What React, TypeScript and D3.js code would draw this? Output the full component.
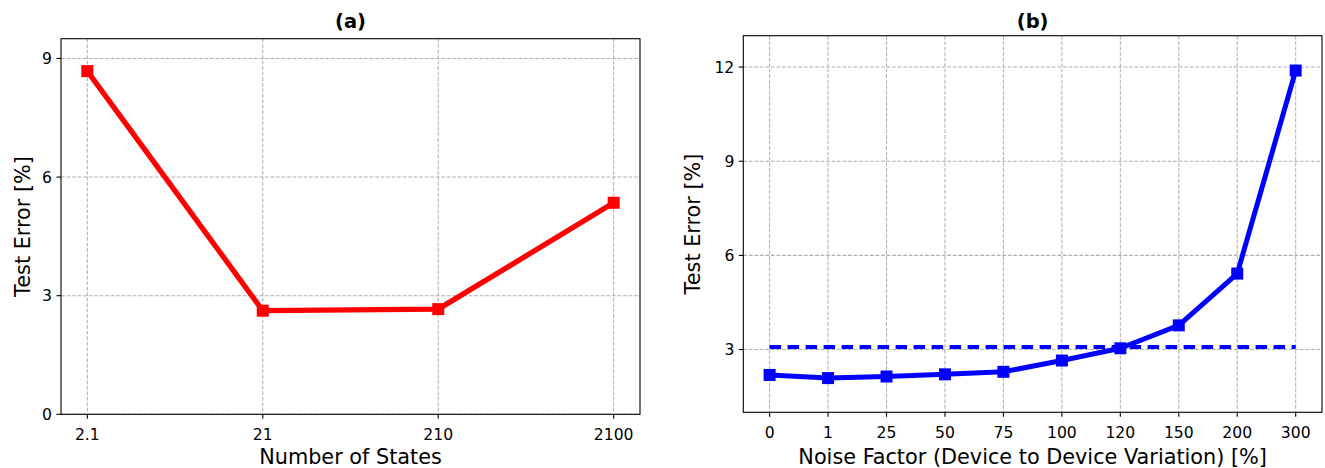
import React from "react";
import * as d3 from "d3";

const statesCategories = ["2.1", "21", "210", "2100"];
const statesError = [8.68, 2.62, 2.66, 5.35];
const statesYTicks = [0, 3, 6, 9];

const noiseCategories = ["0", "1", "25", "50", "75", "100", "120", "150", "200", "300"];
const noiseError = [2.19, 2.09, 2.14, 2.21, 2.29, 2.65, 3.04, 3.77, 5.42, 11.89];
const baselineError = 3.08;
const noiseYTicks = [3, 6, 9, 12];

const FONT = "DejaVu Sans, sans-serif";

type PanelProps = {
  left: number; right: number; top: number; bottom: number;
  cats: string[]; values: number[]; yDomain: [number, number]; yTicks: number[];
  color: string; title: string; xLabel: string; yLabelX: number; baseline?: number;
  lineWidth: number;
};

function Panel(p: PanelProps) {
  const n = p.cats.length;
  const span = p.right - p.left;
  const inner = span / 1.1;
  const pad = inner * 0.05;
  const x = d3.scaleLinear().domain([0, n - 1]).range([p.left + pad, p.right - pad]);
  const y = d3.scaleLinear().domain(p.yDomain).range([p.bottom, p.top]);
  const line = d3.line<number>().x((_, i) => x(i)).y((d) => y(d));
  const ms = 12;
  return (
    <g>
      {p.cats.map((_, i) => (
        <line key={"gx" + i} x1={x(i)} x2={x(i)} y1={p.top} y2={p.bottom}
          stroke="#b0b0b0" strokeWidth={1.05} strokeDasharray="3.85,1.66" />
      ))}
      {p.yTicks.map((t) => (
        <line key={"gy" + t} x1={p.left} x2={p.right} y1={y(t)} y2={y(t)}
          stroke="#b0b0b0" strokeWidth={1.05} strokeDasharray="3.85,1.66" />
      ))}
      {p.baseline !== undefined && (
        <line x1={x(0)} x2={x(n - 1)} y1={y(p.baseline)} y2={y(p.baseline)}
          stroke={p.color} strokeWidth={4} strokeDasharray="11.5,6.5" />
      )}
      <path d={line(p.values) || ""} fill="none" stroke={p.color} strokeWidth={p.lineWidth} strokeLinejoin="round" />
      {p.values.map((v, i) => (
        <rect key={"m" + i} x={x(i) - ms / 2} y={y(v) - ms / 2} width={ms} height={ms} fill={p.color} />
      ))}
      <rect x={p.left} y={p.top} width={span} height={p.bottom - p.top} fill="none" stroke="#000" strokeWidth={1.1} />
      {p.cats.map((c, i) => (
        <g key={"tx" + i}>
          <line x1={x(i)} x2={x(i)} y1={p.bottom} y2={p.bottom + 4.5} stroke="#000" strokeWidth={1.1} />
          <text x={x(i)} y={p.bottom + 25.7} textAnchor="middle" fontSize={15.6} fontFamily={FONT} fill="#000">{c}</text>
        </g>
      ))}
      {p.yTicks.map((t) => (
        <g key={"ty" + t}>
          <line x1={p.left - 4.5} x2={p.left} y1={y(t)} y2={y(t)} stroke="#000" strokeWidth={1.1} />
          <text x={p.left - 9} y={y(t)} dy="0.36em" textAnchor="end" fontSize={15.6} fontFamily={FONT} fill="#000">{t}</text>
        </g>
      ))}
      <text x={(p.left + p.right) / 2} y={28} textAnchor="middle" fontSize={19.5} fontWeight="bold" fontFamily={FONT} fill="#000">{p.title}</text>
      <text x={(p.left + p.right) / 2} y={463.5} textAnchor="middle" fontSize={20.8} fontFamily={FONT} fill="#000">{p.xLabel}</text>
      <text transform={`translate(${p.yLabelX},${(p.top + p.bottom) / 2}) rotate(-90)`} textAnchor="middle" fontSize={20.8} fontFamily={FONT} fill="#000">Test Error [%]</text>
    </g>
  );
}

export default function App() {
  return (
    <svg width={1325} height={468} style={{ position: "absolute", left: 0, top: 0, background: "#fff" }}>
      <rect width={1325} height={468} fill="#fff" />
      <Panel left={61} right={640} top={38.7} bottom={414.3} cats={statesCategories} values={statesError}
        yDomain={[0, 9.5]} yTicks={statesYTicks} color="#ff0000" title="(a)" xLabel="Number of States"
        yLabelX={30} lineWidth={5.3} />
      <Panel left={743.3} right={1322} top={35.7} bottom={412.3} cats={noiseCategories} values={noiseError}
        yDomain={[1, 13]} yTicks={noiseYTicks} color="#0000ff" title="(b)" xLabel="Noise Factor (Device to Device Variation) [%]"
        yLabelX={700} lineWidth={5} baseline={baselineError} />
    </svg>
  );
}
